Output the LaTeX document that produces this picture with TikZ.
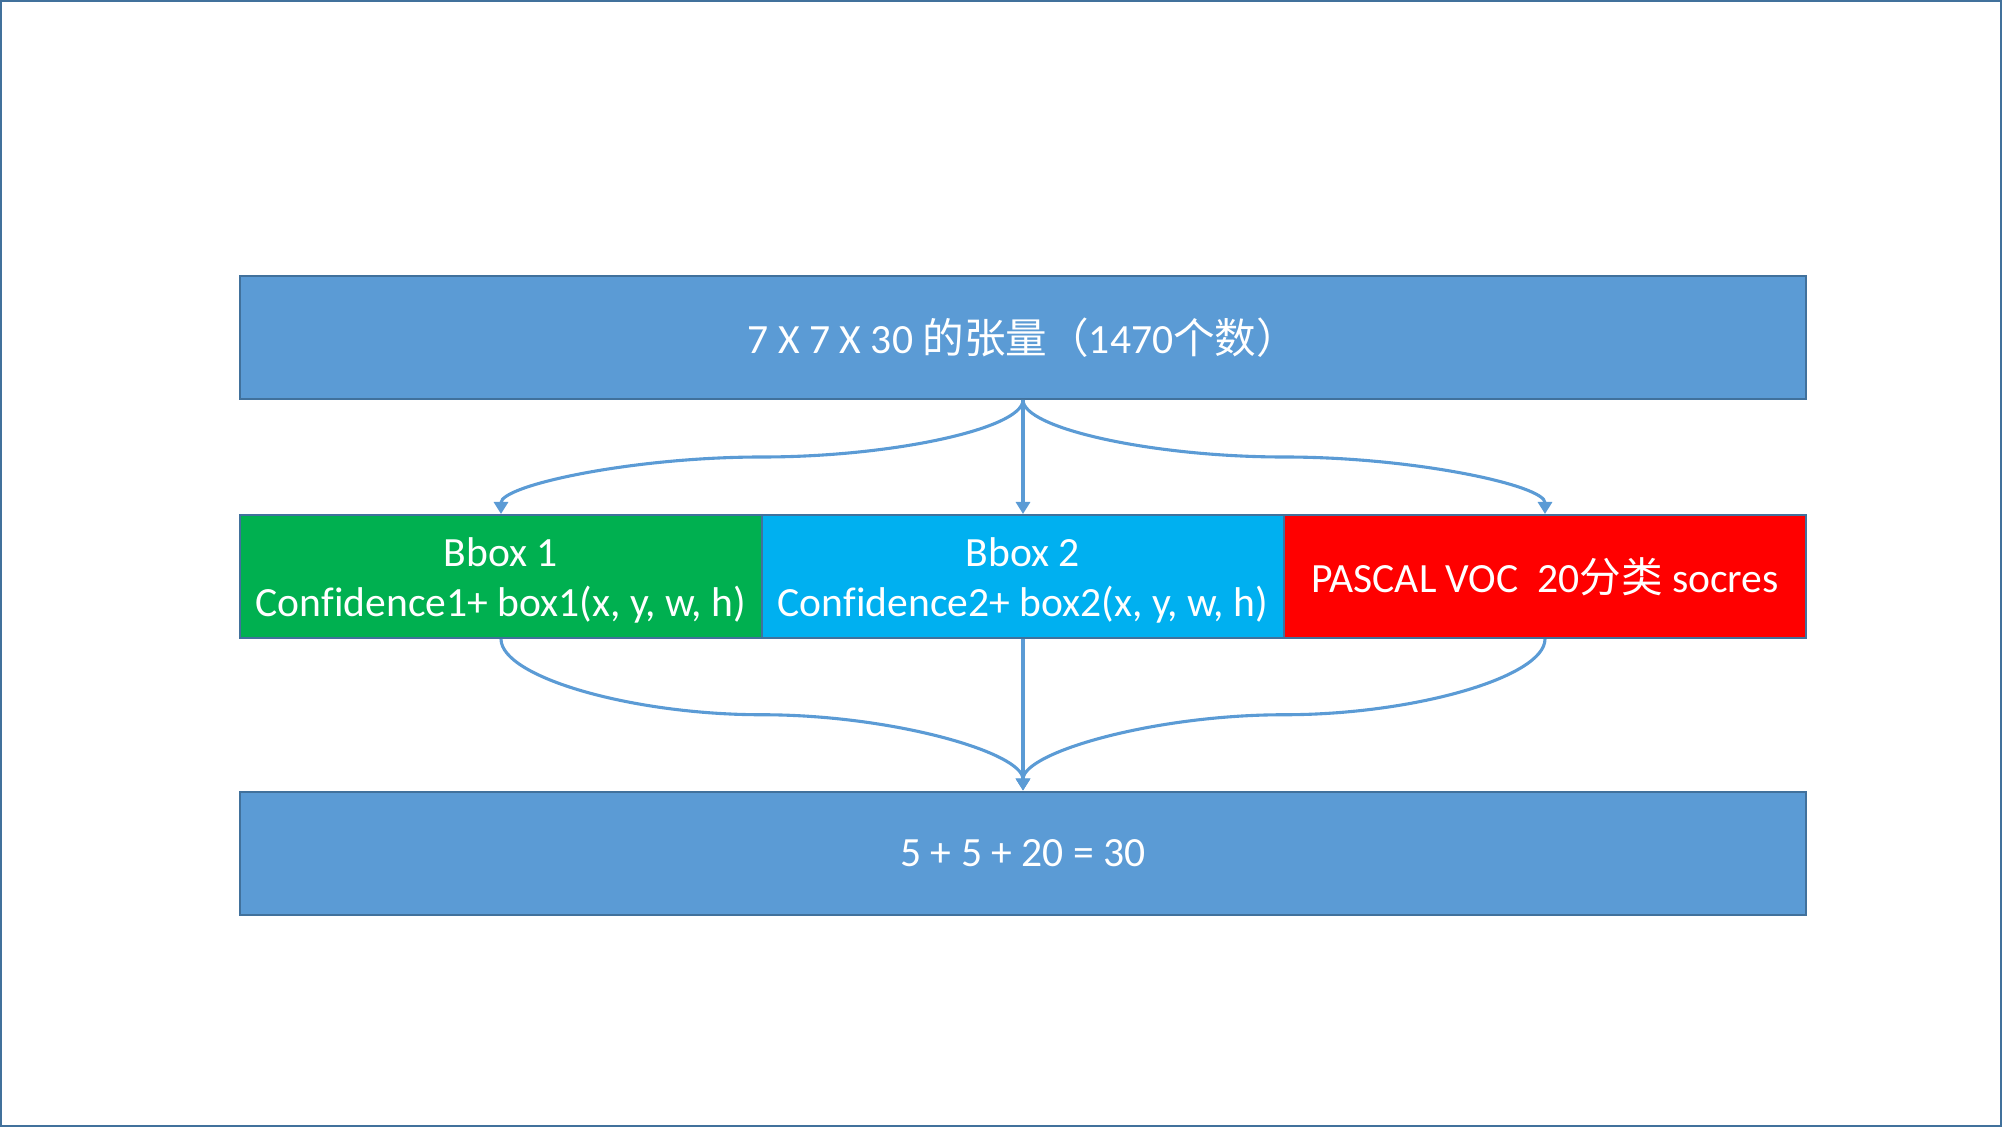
\documentclass[tikz,border=0pt]{standalone}
\usepackage{fontspec}
\setmainfont{Carlito}[Ligatures=NoCommon]
\newfontfamily\cjk{Noto Sans CJK SC}
\usetikzlibrary{arrows.meta,calc}
\definecolor{fillblue}{HTML}{5B9BD5}
\definecolor{edgeblue}{HTML}{41719C}
\definecolor{boxgreen}{HTML}{00B050}
\definecolor{boxcyan}{HTML}{00B0F0}
\definecolor{boxred}{HTML}{FF0000}
\newcommand{\twolines}[2]{\raisebox{-2.5pt}[\height][\depth]{\begin{tabular}{@{}c@{}}#1\\#2\end{tabular}}}
\begin{document}
\begin{tikzpicture}[x=0.5pt,y=-0.5pt,
 box/.style={draw=edgeblue,line width=1pt,minimum height=61.5pt,text=white,
   font=\fontsize{20.8}{25}\selectfont,align=center,inner sep=0pt},
 conn/.style={draw=fillblue,line width=1.55pt,-{Triangle[length=6pt,width=7pt]}},
 curvy/.style={conn,to path={let \p1=(\tikztostart),\p2=(\tikztotarget) in
   .. controls (\x1,{\y1+(\y2-\y1)/4}) and ({\x1+(\x2-\x1)/4},{(\y1+\y2)/2})
   .. ({(\x1+\x2)/2},{(\y1+\y2)/2})
   .. controls ({\x1+3*(\x2-\x1)/4},{(\y1+\y2)/2}) and (\x2,{\y1+3*(\y2-\y1)/4})
   .. (\tikztotarget)}}]
\useasboundingbox (0,0) rectangle (2002,1127);
\draw[edgeblue,line width=1.2pt] (1.2,1.2) rectangle (2000.8,1125.8);

\node[box,fill=fillblue,minimum width=783pt] (t) at (1023,337.5)
  {7 X 7 X 30 {\cjk 的张量（}1470{\cjk 个数）}};
\node[box,fill=boxgreen,minimum width=261pt] (g) at (501,576.5)
  {\twolines{Bbox 1}{Confidence1+ box1(x, y, w, h)}};
\node[box,fill=boxcyan,minimum width=261pt] (c) at (1023,576.5)
  {\twolines{Bbox 2}{Confidence2+ box2(x, y, w, h)}};
\node[box,fill=boxred,minimum width=261pt] (r) at (1545,576.5)
  {PASCAL VOC~~20{\cjk 分类} socres};
\node[box,fill=fillblue,minimum width=783pt] (b) at (1023,853)
  {5 + 5 + 20 = 30};

\draw[curvy] (t.south) to (g.north);
\draw[conn] (t.south) -- (c.north);
\draw[curvy] (t.south) to (r.north);
\draw[curvy] (g.south) to (b.north);
\draw[conn] (c.south) -- (b.north);
\draw[curvy] (r.south) to (b.north);
\end{tikzpicture}
\end{document}
